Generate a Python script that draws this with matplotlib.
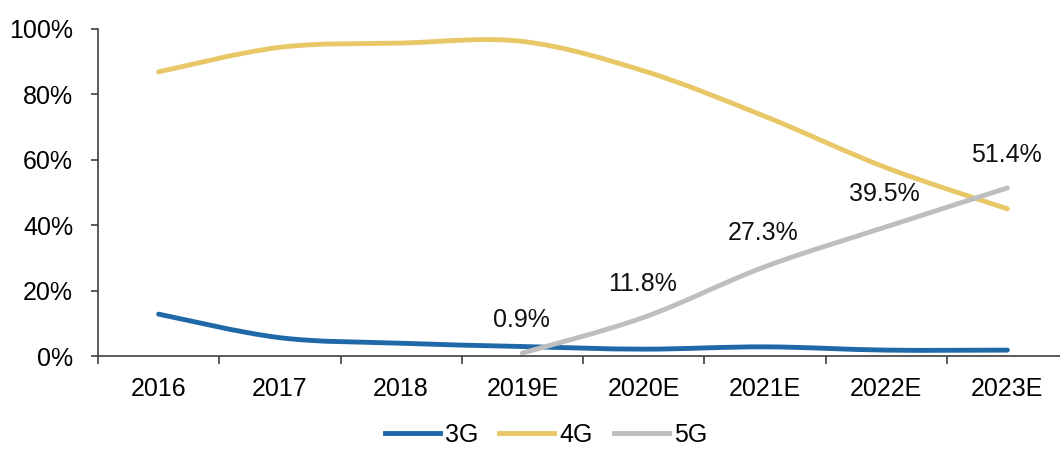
import numpy as np
import matplotlib
matplotlib.use("Agg")
import matplotlib.pyplot as plt
from matplotlib.path import Path
from matplotlib.patches import PathPatch
from matplotlib.lines import Line2D

plt.rcParams['font.family'] = ['Liberation Sans', 'DejaVu Sans']

years = ["2016", "2017", "2018", "2019E", "2020E", "2021E", "2022E", "2023E"]
g3 = [12.8, 5.6, 3.9, 2.9, 2.1, 2.8, 1.8, 1.8]
g4 = [86.9, 94.4, 95.7, 96.2, 87.2, 73.3, 57.6, 45.0]
g5_years = ["2019E", "2020E", "2021E", "2022E", "2023E"]
g5 = [0.9, 11.8, 27.3, 39.5, 51.4]

c3 = "#2069A8"
c4 = "#E8C766"
c5 = "#BEBEBE"


def smooth_path(xs, ys):
    # Excel-like smoothed line: cubic Bezier through the points
    pts = np.column_stack([xs, ys]).astype(float)
    n = len(pts)
    verts = [pts[0]]
    codes = [Path.MOVETO]
    for i in range(n - 1):
        p0 = pts[i - 1] if i > 0 else pts[i]
        p1 = pts[i]
        p2 = pts[i + 1]
        p3 = pts[i + 2] if i + 2 < n else pts[i + 1]
        verts += [p1 + (p2 - p0) / 6, p2 - (p3 - p1) / 6, p2]
        codes += [Path.CURVE4] * 3
    return Path(verts, codes)


fig = plt.figure(figsize=(10.6, 4.5), dpi=100)
ax = fig.add_axes([98 / 1060, 94 / 450, 970 / 1060, 327 / 450])

x = np.arange(len(years))
x5 = np.array([years.index(y) for y in g5_years])

for xs, ys, col in [(x, g3, c3), (x, g4, c4), (x5, g5, c5)]:
    ax.add_patch(PathPatch(smooth_path(xs, np.array(ys) / 100), fill=False,
                           edgecolor=col, lw=3.5, capstyle='round'))

for xi, v in zip(x5, g5):
    ax.annotate(f"{v}%", (xi, v / 100), xytext=(-1, 24), textcoords='offset points',
                ha='center', va='center', fontsize=18, color='#111111')

ax.set_xlim(-0.5, len(years) - 0.5)
ax.set_ylim(0, 1)
ax.set_yticks(np.arange(0, 1.01, 0.2))
ax.set_yticklabels([f"{int(v)}%" for v in np.arange(0, 101, 20)])
ax.set_xticks(x)
ax.set_xticklabels(years)
ax.set_xticks(np.arange(-0.5, len(years)), minor=True)
ax.tick_params(axis='x', which='major', length=0, pad=15, labelsize=18)
ax.tick_params(axis='x', which='minor', length=6, width=1.2, color='#404040', direction='out')
ax.tick_params(axis='y', length=5, width=1.2, color='#404040', pad=13, labelsize=18)

for s in ['top', 'right']:
    ax.spines[s].set_visible(False)
for s in ['left', 'bottom']:
    ax.spines[s].set_color('#404040')
    ax.spines[s].set_linewidth(1.2)

handles = [Line2D([], [], color=c, lw=3.5) for c in (c3, c4, c5)]
fig.legend(handles, ["3G", "4G", "5G"], loc='center', bbox_to_anchor=(0.515, 0.034),
           ncol=3, frameon=False, fontsize=18, handlelength=2.2, handletextpad=0.2,
           columnspacing=0.85, borderpad=0.1)

fig.savefig("out.png", dpi=100)
